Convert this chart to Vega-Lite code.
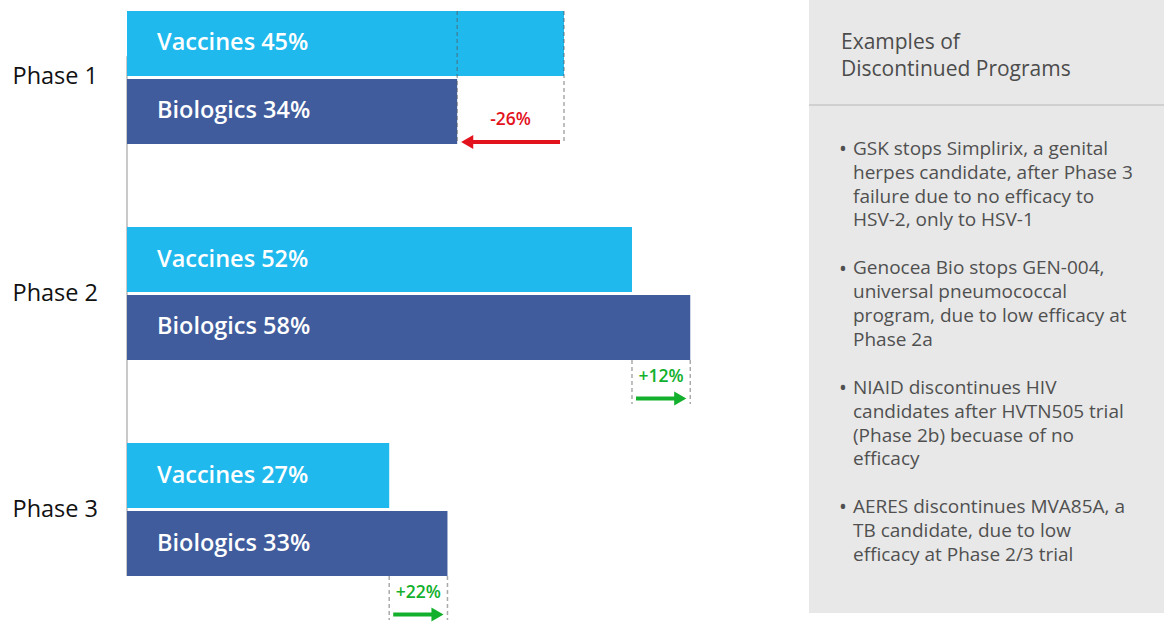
{
  "$schema": "https://vega.github.io/schema/vega-lite/v6.json",
  "padding": {"left": 12, "top": 0, "right": 0, "bottom": 0},
  "spacing": 8,
  "background": "white",
  "config": {
    "view": {"stroke": null},
    "font": "Open Sans",
    "axisY": {"domain": false, "ticks": false, "tickSize": 0, "labelAlign": "left", "labelPadding": 115, "labelFontSize": 23.5, "labelColor": "#111111", "labelFont": "Open Sans", "labelFontWeight": 500}
  },
  "datasets": {
    "bars": [
      {"phase": "Phase 1", "type": "Vaccines", "value": 45, "label": "Vaccines 45%"},
      {"phase": "Phase 1", "type": "Biologics", "value": 34, "label": "Biologics 34%"},
      {"phase": "Phase 2", "type": "Vaccines", "value": 52, "label": "Vaccines 52%"},
      {"phase": "Phase 2", "type": "Biologics", "value": 58, "label": "Biologics 58%"},
      {"phase": "Phase 3", "type": "Vaccines", "value": 27, "label": "Vaccines 27%"},
      {"phase": "Phase 3", "type": "Biologics", "value": 33, "label": "Biologics 33%"}
    ],
    "changes": [
      {"phase": "Phase 1", "from": 45, "to": 34, "label": "-26%", "dir": "down"},
      {"phase": "Phase 2", "from": 52, "to": 58, "label": "+12%", "dir": "up"},
      {"phase": "Phase 3", "from": 27, "to": 33, "label": "+22%", "dir": "up"}
    ],
    "notes": [
      {"item": "t", "bullet": "", "lines": ["Examples of", "Discontinued Programs"]},
      {"item": "1", "bullet": "•", "lines": ["GSK stops Simplirix, a genital", "herpes candidate, after Phase 3", "failure due to no efficacy to", "HSV-2, only to HSV-1"]},
      {"item": "2", "bullet": "•", "lines": ["Genocea Bio stops GEN-004,", "universal pneumococcal", "program, due to low efficacy at", "Phase 2a"]},
      {"item": "3", "bullet": "•", "lines": ["NIAID discontinues HIV", "candidates after HVTN505 trial", "(Phase 2b) becuase of no", "efficacy"]},
      {"item": "4", "bullet": "•", "lines": ["AERES discontinues MVA85A, a", "TB candidate, due to low", "efficacy at Phase 2/3 trial"]}
    ]
  },
  "hconcat": [
    {
      "width": 673,
      "height": 587,
      "layer": [
        {
          "data": {"values": [{"axis": "y"}]},
          "mark": {"type": "rule", "color": "#c9c9c9", "strokeWidth": 2},
          "encoding": {
            "x": {"datum": 0, "type": "quantitative", "axis": null},
            "y": {"datum": "Phase 1", "type": "nominal", "bandPosition": 0.34, "title": null},
            "y2": {"datum": "Phase 3", "bandPosition": 1}
          }
        },
        {
          "data": {"name": "bars"},
          "mark": {"type": "bar"},
          "encoding": {
            "x": {"field": "value", "type": "quantitative", "scale": {"domain": [0, 69.3], "nice": false, "zero": true}, "axis": null},
            "y": {"field": "phase", "type": "nominal", "sort": ["Phase 1", "Phase 2", "Phase 3"], "scale": {"domain": ["Phase 1", "Phase 2", "Phase 3"], "paddingInner": 0.3843, "paddingOuter": 0.0509}, "title": null},
            "yOffset": {"field": "type", "type": "nominal", "sort": ["Vaccines", "Biologics"], "scale": {"paddingInner": 0.044, "paddingOuter": 0}},
            "color": {"field": "type", "type": "nominal", "scale": {"domain": ["Vaccines", "Biologics", "down", "up"], "range": ["#1fb9ee", "#405c9d", "#e3131e", "#12b02c"]}, "legend": null}
          }
        },
        {
          "data": {"name": "bars"},
          "mark": {"type": "text", "align": "left", "baseline": "middle", "dx": 30, "fontSize": 23.5, "fontWeight": 600, "color": "#ffffff"},
          "encoding": {
            "x": {"datum": 0, "type": "quantitative", "axis": null},
            "y": {"field": "phase", "type": "nominal", "sort": ["Phase 1", "Phase 2", "Phase 3"], "title": null},
            "yOffset": {"field": "type", "type": "nominal", "sort": ["Vaccines", "Biologics"]},
            "text": {"field": "label"}
          }
        },
        {
          "data": {"name": "changes"},
          "transform": [{"filter": "datum.phase == 'Phase 1'"}, {"fold": ["from", "to"], "as": ["end", "xv"]}],
          "mark": {"type": "rule", "strokeDash": [4, 3], "strokeWidth": 1.5, "color": "#555555", "opacity": 0.5},
          "encoding": {
            "x": {"field": "xv", "type": "quantitative", "axis": null},
            "y": {"field": "phase", "type": "nominal", "sort": ["Phase 1", "Phase 2", "Phase 3"], "bandPosition": 0, "title": null},
            "y2": {"field": "phase", "bandPosition": 1}
          }
        },
        {
          "data": {"name": "changes"},
          "transform": [{"filter": "datum.phase != 'Phase 1'"}, {"fold": ["from", "to"], "as": ["end", "xv"]}],
          "mark": {"type": "rule", "strokeDash": [4, 3], "strokeWidth": 1.5, "color": "#555555", "opacity": 0.5},
          "encoding": {
            "x": {"field": "xv", "type": "quantitative", "axis": null},
            "y": {"field": "phase", "type": "nominal", "sort": ["Phase 1", "Phase 2", "Phase 3"], "bandPosition": 1, "title": null},
            "y2": {"field": "phase", "bandPosition": 1.33}
          }
        },
        {
          "data": {"name": "changes"},
          "transform": [{"filter": "datum.phase == 'Phase 1'"}],
          "mark": {"type": "rule", "strokeWidth": 4, "xOffset": -4, "x2Offset": 10},
          "encoding": {
            "x": {"field": "from", "type": "quantitative", "axis": null},
            "x2": {"field": "to"},
            "y": {"field": "phase", "type": "nominal", "sort": ["Phase 1", "Phase 2", "Phase 3"], "bandPosition": 0.985, "title": null},
            "color": {"field": "dir", "type": "nominal", "legend": null}
          }
        },
        {
          "data": {"name": "changes"},
          "transform": [{"filter": "datum.phase == 'Phase 1'"}],
          "mark": {"type": "point", "shape": "triangle-left", "filled": true, "opacity": 1, "size": 196, "xOffset": 10},
          "encoding": {
            "x": {"field": "to", "type": "quantitative", "axis": null},
            "y": {"field": "phase", "type": "nominal", "sort": ["Phase 1", "Phase 2", "Phase 3"], "bandPosition": 0.985, "title": null},
            "color": {"field": "dir", "type": "nominal", "legend": null}
          }
        },
        {
          "data": {"name": "changes"},
          "transform": [{"filter": "datum.phase != 'Phase 1'"}],
          "mark": {"type": "rule", "strokeWidth": 4, "xOffset": 4, "x2Offset": -10},
          "encoding": {
            "x": {"field": "from", "type": "quantitative", "axis": null},
            "x2": {"field": "to"},
            "y": {"field": "phase", "type": "nominal", "sort": ["Phase 1", "Phase 2", "Phase 3"], "bandPosition": 1.29, "title": null},
            "color": {"field": "dir", "type": "nominal", "legend": null}
          }
        },
        {
          "data": {"name": "changes"},
          "transform": [{"filter": "datum.phase != 'Phase 1'"}],
          "mark": {"type": "point", "shape": "triangle-right", "filled": true, "opacity": 1, "size": 196, "xOffset": -10},
          "encoding": {
            "x": {"field": "to", "type": "quantitative", "axis": null},
            "y": {"field": "phase", "type": "nominal", "sort": ["Phase 1", "Phase 2", "Phase 3"], "bandPosition": 1.29, "title": null},
            "color": {"field": "dir", "type": "nominal", "legend": null}
          }
        },
        {
          "data": {"name": "changes"},
          "transform": [{"filter": "datum.phase == 'Phase 1'"}, {"calculate": "(datum.from + datum.to) / 2", "as": "mid"}],
          "mark": {"type": "text", "baseline": "middle", "align": "center", "fontSize": 17.5, "fontWeight": 600},
          "encoding": {
            "x": {"field": "mid", "type": "quantitative", "axis": null},
            "y": {"field": "phase", "type": "nominal", "sort": ["Phase 1", "Phase 2", "Phase 3"], "bandPosition": 0.82, "title": null},
            "color": {"field": "dir", "type": "nominal", "legend": null},
            "text": {"field": "label"}
          }
        },
        {
          "data": {"name": "changes"},
          "transform": [{"filter": "datum.phase != 'Phase 1'"}, {"calculate": "(datum.from + datum.to) / 2", "as": "mid"}],
          "mark": {"type": "text", "baseline": "middle", "align": "center", "fontSize": 17.5, "fontWeight": 600},
          "encoding": {
            "x": {"field": "mid", "type": "quantitative", "axis": null},
            "y": {"field": "phase", "type": "nominal", "sort": ["Phase 1", "Phase 2", "Phase 3"], "bandPosition": 1.13, "title": null},
            "color": {"field": "dir", "type": "nominal", "legend": null},
            "text": {"field": "label"}
          }
        }
      ]
    },
    {
      "width": 356,
      "height": 613,
      "view": {"fill": "#e8e8e8", "stroke": null},
      "data": {"name": "notes"},
      "layer": [
        {
          "transform": [{"filter": "datum.item == 't'"}],
          "mark": {"type": "text", "align": "left", "baseline": "top", "dx": -146, "dy": 11, "fontSize": 21, "fontWeight": 500, "lineHeight": 26.5, "color": "#4c4c4c"},
          "encoding": {
            "y": {"field": "item", "type": "nominal", "scale": {"type": "point", "domain": ["t", "1", "2", "3", "4"], "padding": 0.5649, "align": 0.1556}, "axis": null},
            "text": {"field": "lines"}
          }
        },
        {
          "transform": [{"filter": "datum.item == 't'"}],
          "mark": {"type": "rule", "color": "#c8c8c8", "strokeWidth": 1.5, "yOffset": 84},
          "encoding": {
            "y": {"field": "item", "type": "nominal", "axis": null}
          }
        },
        {
          "transform": [{"filter": "datum.item != 't'"}],
          "mark": {"type": "text", "align": "left", "baseline": "top", "dx": -148, "dy": -1.5, "fontSize": 21, "color": "#505050"},
          "encoding": {
            "y": {"field": "item", "type": "nominal", "axis": null},
            "text": {"field": "bullet"}
          }
        },
        {
          "transform": [{"filter": "datum.item != 't'"}],
          "mark": {"type": "text", "align": "left", "baseline": "top", "dx": -134, "dy": -0.7, "fontSize": 19, "lineHeight": 23.9, "color": "#505050"},
          "encoding": {
            "y": {"field": "item", "type": "nominal", "axis": null},
            "text": {"field": "lines"}
          }
        }
      ]
    }
  ]
}
